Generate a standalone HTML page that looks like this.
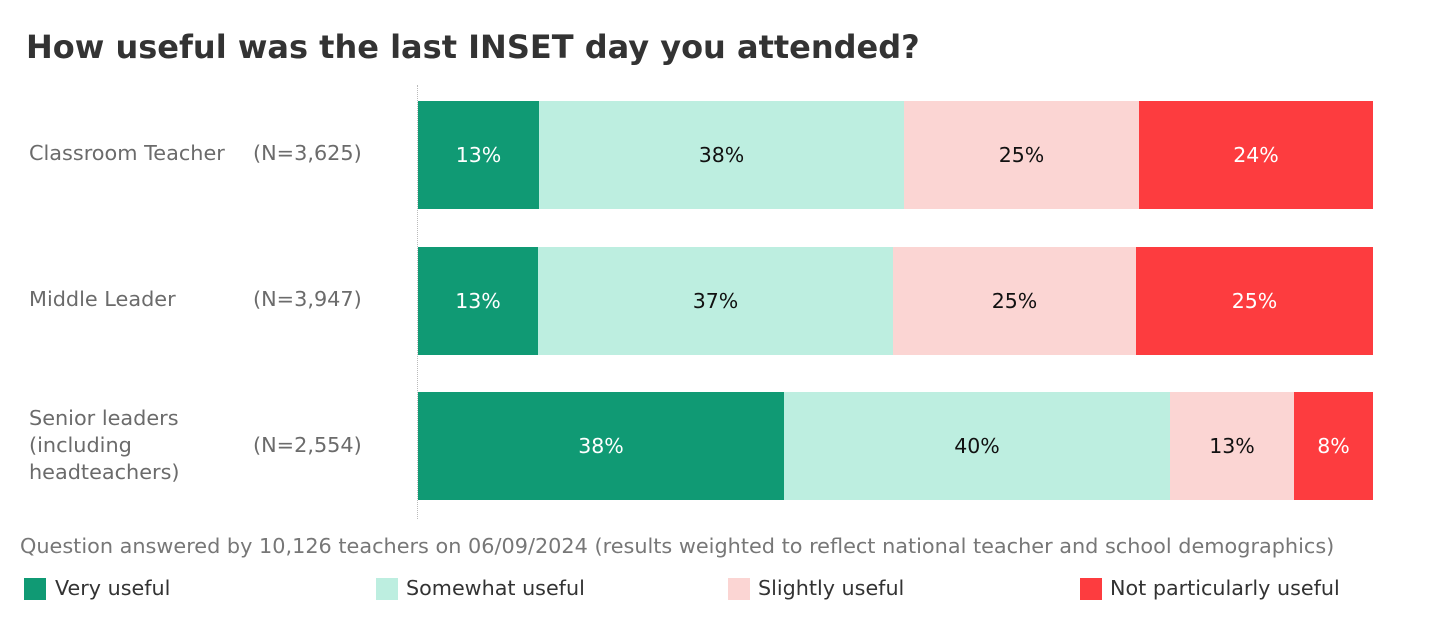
<!DOCTYPE html>
<html><head><meta charset="utf-8"><style>
body{margin:0;width:1440px;height:640px;background:#fff;position:relative;font-family:"DejaVu Sans","Liberation Sans",sans-serif;overflow:hidden}
.a{position:absolute;white-space:nowrap}
.t{left:26px;top:28px;font-size:32px;font-weight:bold;color:#333}
.l{color:#6b6b6b;font-size:20.8px;line-height:27px}
.s{position:absolute;display:flex;align-items:center;justify-content:center;font-size:20.5px}
.g{background:#109a74;color:#fff}.m{background:#bdeee0;color:#111}.p{background:#fbd5d3;color:#111}.r{background:#fd3c3f;color:#fff}
.sq{position:absolute;width:22px;height:22px;top:578px}
.lg{top:576px;font-size:20.7px;color:#333}
</style></head><body>
<div class="a t">How useful was the last INSET day you attended?</div>
<div class="a" style="left:417px;top:85px;height:434px;border-left:1px dotted #bbb"></div>

<div class="a l" style="left:29px;top:140px">Classroom Teacher</div>
<div class="a l" style="left:253px;top:140px">(N=3,625)</div>
<div class="a l" style="left:29px;top:286px">Middle Leader</div>
<div class="a l" style="left:253px;top:286px">(N=3,947)</div>
<div class="a l" style="left:29px;top:405px">Senior leaders<br>(including<br>headteachers)</div>
<div class="a l" style="left:253px;top:432px">(N=2,554)</div>

<div class="s g" style="left:418px;top:101px;width:121px;height:108px">13%</div>
<div class="s m" style="left:539px;top:101px;width:365px;height:108px">38%</div>
<div class="s p" style="left:904px;top:101px;width:235px;height:108px">25%</div>
<div class="s r" style="left:1139px;top:101px;width:234px;height:108px">24%</div>

<div class="s g" style="left:418px;top:247px;width:120px;height:108px">13%</div>
<div class="s m" style="left:538px;top:247px;width:355px;height:108px">37%</div>
<div class="s p" style="left:893px;top:247px;width:243px;height:108px">25%</div>
<div class="s r" style="left:1136px;top:247px;width:237px;height:108px">25%</div>

<div class="s g" style="left:418px;top:392px;width:366px;height:108px">38%</div>
<div class="s m" style="left:784px;top:392px;width:386px;height:108px">40%</div>
<div class="s p" style="left:1170px;top:392px;width:124px;height:108px">13%</div>
<div class="s r" style="left:1294px;top:392px;width:79px;height:108px">8%</div>

<div class="a" style="left:20px;top:534px;font-size:20.8px;color:#777">Question answered by 10,126 teachers on 06/09/2024 (results weighted to reflect national teacher and school demographics)</div>

<div class="sq" style="left:24px;background:#109a74"></div><div class="a lg" style="left:55px">Very useful</div>
<div class="sq" style="left:376px;background:#bdeee0"></div><div class="a lg" style="left:406px">Somewhat useful</div>
<div class="sq" style="left:728px;background:#fbd5d3"></div><div class="a lg" style="left:758px">Slightly useful</div>
<div class="sq" style="left:1080px;background:#fd3c3f"></div><div class="a lg" style="left:1110px">Not particularly useful</div>
</body></html>
